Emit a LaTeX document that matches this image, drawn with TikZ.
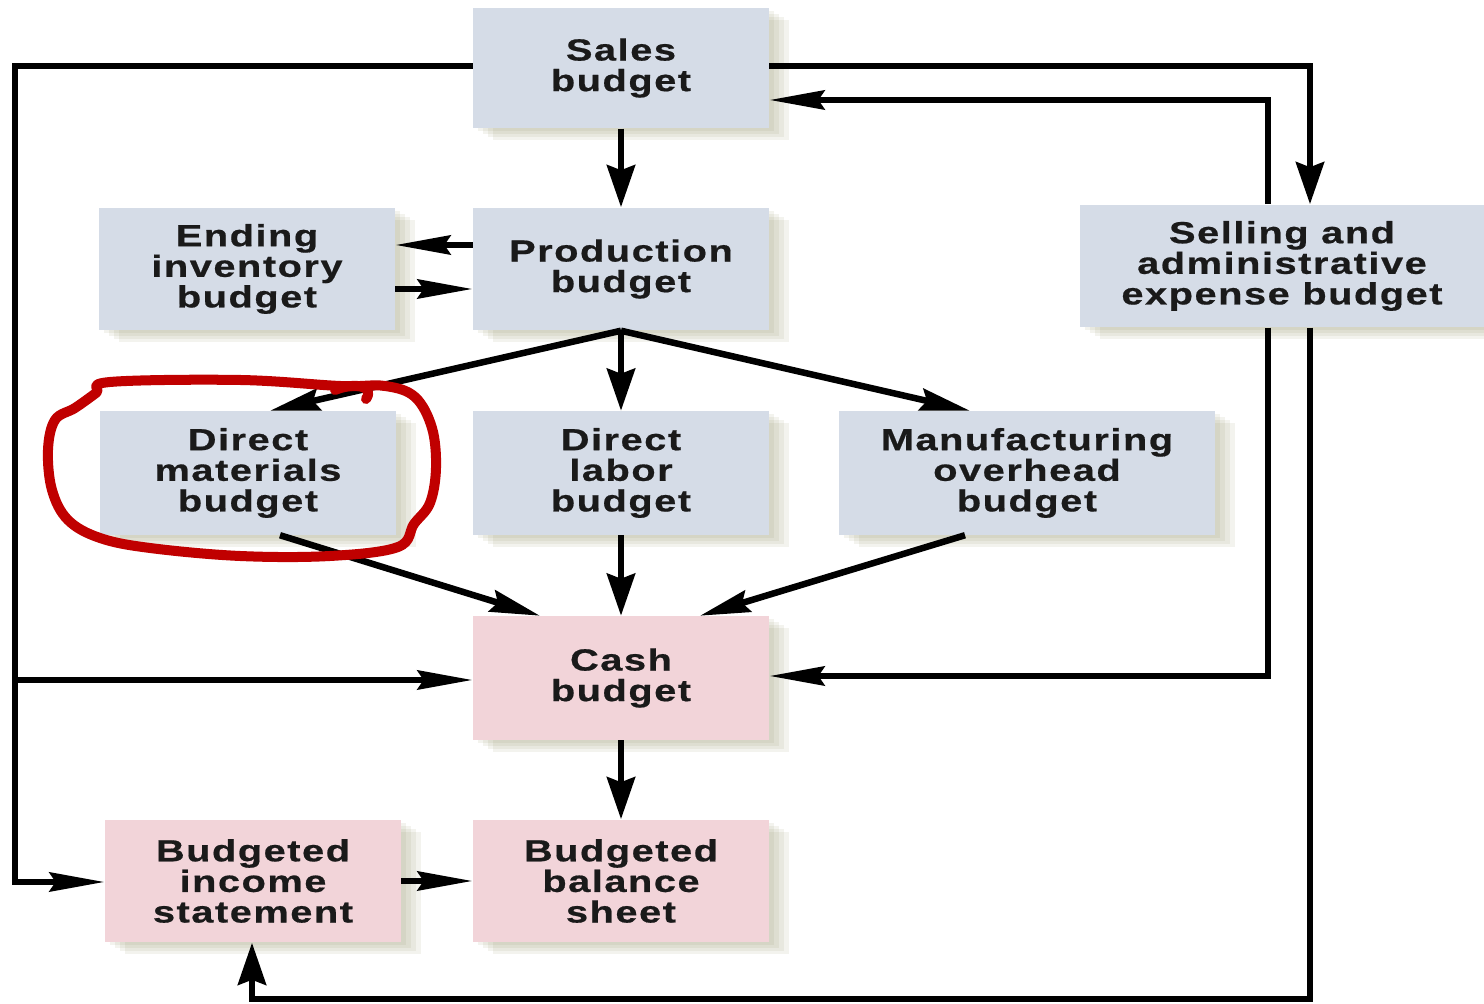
\documentclass[tikz,border=0pt]{standalone}
\usepackage{fontspec}
\newfontfamily\boxfont[FakeStretch=1.3,LetterSpace=5,FakeBold=0.6]{Liberation Sans}
\usetikzlibrary{arrows.meta,shadows,calc}
\definecolor{boxblue}{HTML}{D5DCE7}
\definecolor{boxpink}{HTML}{F2D4D9}
\definecolor{redmark}{HTML}{C00000}
\definecolor{txt}{HTML}{1A1A1A}
\definecolor{shcol}{HTML}{8E8A5E}
\begin{document}
\begin{tikzpicture}[x=0.01cm,y=-0.01cm,
 softshadow/.style={
   general shadow={fill=shcol, fill opacity=0.10, shadow xshift=0.20cm, shadow yshift=-0.12cm},
   general shadow={fill=shcol, fill opacity=0.10, shadow xshift=0.15cm, shadow yshift=-0.09cm},
   general shadow={fill=shcol, fill opacity=0.10, shadow xshift=0.10cm, shadow yshift=-0.06cm},
   general shadow={fill=shcol, fill opacity=0.10, shadow xshift=0.05cm, shadow yshift=-0.03cm}},
 box/.style={draw=none, inner sep=0pt, align=center, text=txt,
   font=\boxfont\bfseries\fontsize{8.7}{8.7}\selectfont, softshadow},
 bluebox/.style={box, fill=boxblue},
 pinkbox/.style={box, fill=boxpink},
 std/.style={minimum width=2.95cm, minimum height=1.22cm},
 conn/.style={line width=0.065cm, black},
 harr/.style={conn, -{Stealth[length=0.55cm,width=0.19cm,inset=0.06cm]}},
 varr/.style={conn, -{Stealth[length=0.42cm,width=0.28cm,inset=0.05cm]}},
 darr/.style={conn, -{Stealth[length=0.5cm,width=0.22cm,inset=0.06cm]}},
 redline/.style={draw=redmark, line width=0.1cm, line cap=round, line join=round},
]
\useasboundingbox (0,0) rectangle (1484,1004);
\fill[white] (0,0) rectangle (1484,1004);

% boxes
\node[bluebox, std, minimum height=1.2cm] (sales) at (621,68) {Sales\\budget};
\node[bluebox, std] (prod) at (621,269) {Production\\budget};
\node[bluebox, std] (endinv) at (247,269) {Ending\\inventory\\budget};
\node[bluebox, minimum width=4.04cm, minimum height=1.22cm] (sell) at (1282,266) {Selling and\\administrative\\expense budget};
\node[bluebox, std, minimum height=1.23cm] (dm) at (248,473) {Direct\\materials\\budget};
\node[bluebox, std, minimum height=1.23cm] (dl) at (621,473) {Direct\\labor\\budget};
\node[bluebox, minimum width=3.75cm, minimum height=1.23cm] (mo) at (1027,473) {Manufacturing\\overhead\\budget};
\node[pinkbox, std, minimum height=1.23cm] (cash) at (621,678) {Cash\\budget};
\node[pinkbox, std] (inc) at (253,881) {Budgeted\\income\\statement};
\node[pinkbox, std] (bal) at (621,881) {Budgeted\\balance\\sheet};

% corner coordinates
\coordinate (lt) at (15,66);
\coordinate (lb) at (15,882);
\coordinate (lcash) at (15,680);
\coordinate (rt) at (1310,66);
\coordinate (it) at (1268,100);
\coordinate (ib) at (1268,676);
\coordinate (rb) at (1310,999);
\coordinate (bb) at (252,999);

% connectors
\draw[varr] (sales) -- (prod);
\draw[harr] (prod.west |- 0,245) -- (endinv.east |- 0,245);
\draw[harr] (endinv.east |- 0,289) -- (prod.west |- 0,289);
\draw[darr] (prod.south) -- (dm.north -| 270,0);
\draw[varr] (prod) -- (dl);
\draw[darr] (prod.south) -- (mo.north -| 970,0);
\draw[darr] (dm.south -| 280,0) -- (cash.north -| 540,0);
\draw[varr] (dl) -- (cash);
\draw[darr] (mo.south -| 965,0) -- (cash.north -| 700,0);
\draw[varr] (cash) -- (bal);
\draw[harr] (inc) -- (bal);
\draw[harr] (sales.west |- lt) -- (lt) -- (lb) -- (inc.west |- lb);
\draw[harr] (lcash) -- (cash.west |- lcash);
\draw[varr] (sales.east |- rt) -- (rt) -- (sell.north -| rt);
\draw[harr] (sell.north -| it) -- (it) -- (sales.east |- it);
\draw[harr] (sell.south -| ib) -- (ib) -- (cash.east |- ib);
\draw[varr] (sell.south -| rb) -- (rb) -- (bb) -- (inc.south -| bb);

% hand-drawn red mark
\draw[redline] plot[smooth cycle, tension=0.6] coordinates {
 (110,382) (240,380) (340,386) (385,386) (415,397) (432,428) (436,468)
 (430,503) (414,524) (398,547) (330,556) (240,556) (150,548) (100,538)
 (68,520) (52,490) (48,450) (55,420) (75,408) (96,393)};
\draw[redline] (335,390) .. controls (355,382) and (375,386) .. (366,399);
\end{tikzpicture}
\end{document}
